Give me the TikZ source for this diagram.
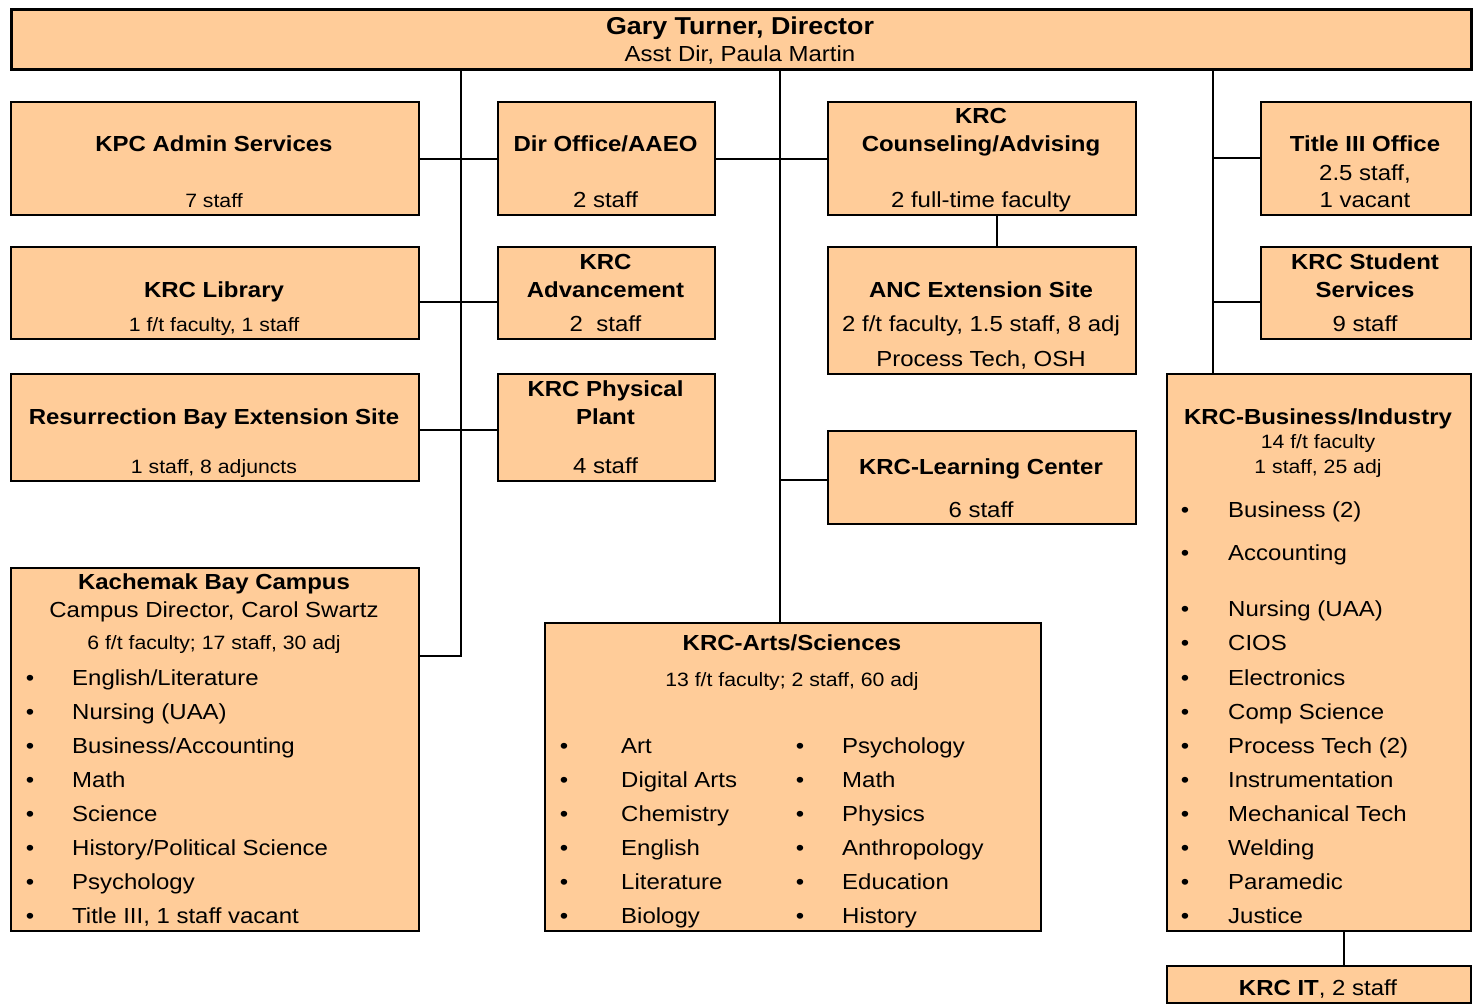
\documentclass[tikz,border=0pt]{standalone}
\usepackage{fontspec}
\setmainfont{Liberation Sans}[FakeStretch=1.1]
\definecolor{boxfill}{RGB}{255,204,153}
\begin{document}
\begin{tikzpicture}[x=1pt,y=-1pt,
  box/.style={draw=black,line width=2pt,fill=boxfill,inner sep=0pt,anchor=north west},
  topbox/.style={box,line width=3pt},
  conn/.style={draw=black,line width=2pt},
  tn/.style={inner sep=0pt,anchor=base,font=\fontsize{21.8}{24}\selectfont},
  tb/.style={tn,font=\fontsize{21.8}{24}\selectfont\bfseries},
  tbig/.style={tn,font=\fontsize{24.4}{26}\selectfont\bfseries},
  ts/.style={tn,font=\fontsize{19.3}{22}\selectfont},
  bul/.style={tn},
  bt/.style={tn,anchor=base west}]
\useasboundingbox (0,0) rectangle (1478,1004);
% junction coordinates
\coordinate (j1) at (461,656);
\coordinate (j2) at (461,302);
\coordinate (j3) at (461,430);
\coordinate (jx2) at (780,158);
\coordinate (j4) at (997,230);
\coordinate (j5) at (780,480);
\coordinate (j6) at (1213,158);
\coordinate (j7) at (1213,302);
\coordinate (j8) at (1344,950);
% boxes
\node[topbox,minimum width=1460pt,minimum height=60pt] (top) at (10,8) {};
\node[box,minimum width=408pt,minimum height=113pt] (kpc) at (10,101) {};
\node[box,minimum width=217pt,minimum height=113pt] (dir) at (497,101) {};
\node[box,minimum width=308pt,minimum height=113pt] (cou) at (827,101) {};
\node[box,minimum width=210pt,minimum height=113pt] (t3) at (1260,101) {};
\node[box,minimum width=408pt,minimum height=92pt] (lib) at (10,246) {};
\node[box,minimum width=217pt,minimum height=92pt] (adv) at (497,246) {};
\node[box,minimum width=308pt,minimum height=127pt] (anc) at (827,246) {};
\node[box,minimum width=210pt,minimum height=92pt] (ss) at (1260,246) {};
\node[box,minimum width=408pt,minimum height=107pt] (rb) at (10,373) {};
\node[box,minimum width=217pt,minimum height=107pt] (pp) at (497,373) {};
\node[box,minimum width=308pt,minimum height=93pt] (lc) at (827,430) {};
\node[box,minimum width=304pt,minimum height=557pt] (bi) at (1166,373) {};
\node[box,minimum width=304pt,minimum height=37pt] (it) at (1166,965) {};
\node[box,minimum width=408pt,minimum height=363pt] (kb) at (10,567) {};
\node[box,minimum width=496pt,minimum height=308pt] (as) at (544,622) {};
% connectors
\draw[conn] (top.south -| j1) -- (j1) -- (kb.east |- j1);
\draw[conn] (kpc.east) -- (dir.west);
\draw[conn] (lib.east |- j2) -- (adv.west |- j2);
\draw[conn] (rb.east |- j3) -- (pp.west |- j3);
\draw[conn] (top.south -| jx2) -- (as.north -| jx2);
\draw[conn] (dir.east) -- (cou.west);
\draw[conn] (cou.south -| j4) -- (anc.north -| j4);
\draw[conn] (j5) -- (lc.west |- j5);
\draw[conn] (top.south -| j6) -- (bi.north -| j6);
\draw[conn] (j6) -- (t3.west |- j6);
\draw[conn] (j7) -- (ss.west |- j7);
\draw[conn] (bi.south -| j8) -- (it.north -| j8);
% texts
\node[tbig] (topa) at (740,34) {Gary Turner, Director};
\node[tn] (topb) at (740,61) {Asst Dir, Paula Martin};
\node[tb] (kpca) at (214,151) {KPC Admin Services};
\node[ts] (kpcb) at (214,207) {7 staff};
\node[tb] (dira) at (605.5,151) {Dir Office/AAEO};
\node[tn] (dirb) at (605.5,207) {2 staff};
\node[tb] (coua) at (981,123) {KRC};
\node[tb] (coub) at (981,151) {Counseling/Advising};
\node[tn] (couc) at (981,207) {2 full-time faculty};
\node[tb] (t3a) at (1365,151) {Title III Office};
\node[tn] (t3b) at (1365,180) {2.5 staff,};
\node[tn] (t3c) at (1365,207) {1 vacant};
\node[tb] (liba) at (214,297) {KRC Library};
\node[ts] (libb) at (214,331) {1 f/t faculty, 1 staff};
\node[tb] (adva) at (605.5,269) {KRC};
\node[tb] (advb) at (605.5,297) {Advancement};
\node[tn] (advc) at (605.5,331) {2\ \ staff};
\node[tb] (anca) at (981,297) {ANC Extension Site};
\node[tn] (ancb) at (981,331) {2 f/t faculty, 1.5 staff, 8 adj};
\node[tn] (ancc) at (981,366) {Process Tech, OSH};
\node[tb] (ssa) at (1365,269) {KRC Student};
\node[tb] (ssb) at (1365,297) {Services};
\node[tn] (ssc) at (1365,331) {9 staff};
\node[tb] (rba) at (214,424) {Resurrection Bay Extension Site};
\node[ts] (rbb) at (214,473) {1 staff, 8 adjuncts};
\node[tb] (ppa) at (605.5,396) {KRC Physical};
\node[tb] (ppb) at (605.5,424) {Plant};
\node[tn] (ppc) at (605.5,473) {4 staff};
\node[tb] (lca) at (981,474) {KRC-Learning Center};
\node[tn] (lcb) at (981,517) {6 staff};
\node[tb] (bia) at (1318,424) {KRC-Business/Industry};
\node[ts] (bib) at (1318,448) {14 f/t faculty};
\node[ts] (bic) at (1318,473) {1 staff, 25 adj};
\foreach \t/\y [count=\i] in {Business (2)/517, Accounting/560, Nursing (UAA)/616, CIOS/650, Electronics/685, Comp Science/719, Process Tech (2)/753, Instrumentation/787, Mechanical Tech/821, Welding/855, Paramedic/889, Justice/923}{
  \node[bul] (bib\i) at (1185,\y) {•};
  \node[bt] (bit\i) at (1228,\y) {\t};
}
\node[tn] (ita) at (1318,995) {\textbf{KRC IT}, 2 staff};
\node[tb] (kba) at (214,589) {Kachemak Bay Campus};
\node[tn] (kbb) at (214,617) {Campus Director, Carol Swartz};
\node[ts] (kbc) at (214,649) {6 f/t faculty; 17 staff, 30 adj};
\foreach \t/\y [count=\i] in {{English/Literature}/685, {Nursing (UAA)}/719, {Business/Accounting}/753, {Math}/787, {Science}/821, {History/Political Science}/855, {Psychology}/889, {Title III, 1 staff vacant}/923}{
  \node[bul] (kbb\i) at (30,\y) {•};
  \node[bt] (kbt\i) at (72,\y) {\t};
}
\node[tb] (asa) at (792,650) {KRC-Arts/Sciences};
\node[ts] (asb) at (792,686) {13 f/t faculty; 2 staff, 60 adj};
\foreach \l/\r/\y [count=\i] in {Art/Psychology/753, Digital Arts/Math/787, Chemistry/Physics/821, English/Anthropology/855, Literature/Education/889, Biology/History/923}{
  \node[bul] (asl\i) at (564,\y) {•};
  \node[bt] (aslt\i) at (621,\y) {\l};
  \node[bul] (asr\i) at (800,\y) {•};
  \node[bt] (asrt\i) at (842,\y) {\r};
}
\end{tikzpicture}
\end{document}
